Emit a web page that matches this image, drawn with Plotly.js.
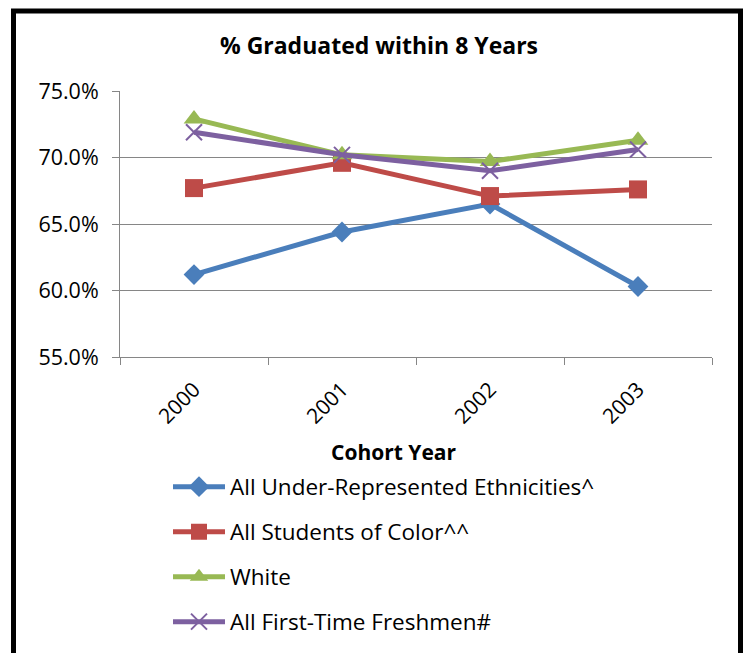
<!DOCTYPE html>
<html>
<head>
<meta charset="utf-8">
<script src="https://cdn.plot.ly/plotly-3.0.1.min.js"></script>
<style>
  html, body { margin: 0; padding: 0; background: #ffffff; }
  #chart { width: 747px; height: 653px; }
</style>
</head>
<body>
<div id="chart"></div>
<script>
// ---- Data ----
const cohortYears = ["2000", "2001", "2002", "2003"];
const seriesNames = [
  "All Under-Represented Ethnicities^",
  "All Students of Color^^",
  "White",
  "All First-Time Freshmen#"
];
const underRepresented = [61.2, 64.4, 66.5, 60.3];
const studentsOfColor  = [67.7, 69.6, 67.1, 67.6];
const white            = [72.9, 70.2, 69.7, 71.3];
const firstTimeFresh   = [71.9, 70.2, 69.0, 70.6];
const yTickValues = [55, 60, 65, 70, 75];
const yTickLabels = ["55.0%", "60.0%", "65.0%", "70.0%", "75.0%"];

const FONT = "'Open Sans', Lato, sans-serif";
const colors = ["#4A7EBB", "#BE4B48", "#98B954", "#7D60A0"];
const symbols = ["diamond", "square", "triangle-up", "x-thin-open"];
const sizes = [16, 18, 18, 16];
const seriesValues = [underRepresented, studentsOfColor, white, firstTimeFresh];
const legendIds = ["legend", "legend2", "legend3", "legend4"];

const traces = seriesValues.map((vals, i) => ({
  type: "scatter",
  mode: "lines+markers",
  x: cohortYears,
  y: vals,
  name: seriesNames[i],
  legend: legendIds[i],
  line: { color: colors[i], width: 5 },
  marker: {
    symbol: symbols[i],
    size: sizes[i],
    color: colors[i],
    line: { color: colors[i], width: i === 3 ? 2 : 0 }
  },
  hoverinfo: "x+y+name"
}));

const L = 120, R = 35, T = 91, B = 295, W = 747, H = 653;
const pw = W - L - R, ph = H - T - B;
const px2x = p => (p - L) / pw;
const px2y = p => (H - B - p) / ph;

const legendRowsPx = [487, 532, 577, 622];

const layout = {
  width: W,
  height: H,
  margin: { l: L, r: R, t: T, b: B, pad: 0 },
  paper_bgcolor: "#ffffff",
  plot_bgcolor: "#ffffff",
  font: { family: FONT, size: 21, color: "#000000" },
  title: {
    text: "<b>% Graduated within 8 Years</b>",
    font: { family: FONT, size: 23, color: "#000000" },
    x: 379 / W, xref: "container", xanchor: "center",
    y: 1 - 46 / H, yref: "container", yanchor: "middle"
  },
  xaxis: {
    type: "category",
    range: [-0.5, 3.5],
    tickson: "boundaries",
    ticks: "outside",
    ticklen: 7,
    tickcolor: "#868686",
    tickwidth: 1,
    tickangle: -45,
    ticklabelstandoff: 11,
    showline: true,
    linecolor: "#868686",
    linewidth: 1,
    showgrid: false,
    zeroline: false,
    automargin: false,
    tickfont: { family: FONT, size: 21, color: "#000000" },
    fixedrange: true
  },
  yaxis: {
    range: [55, 75],
    tickvals: yTickValues,
    ticktext: yTickLabels,
    ticks: "outside",
    ticklen: 7,
    tickcolor: "#868686",
    ticklabelstandoff: 9,
    showline: true,
    linecolor: "#868686",
    linewidth: 1,
    showgrid: true,
    gridcolor: "#868686",
    gridwidth: 1,
    zeroline: false,
    automargin: false,
    tickfont: { family: FONT, size: 21.5, color: "#000000" },
    fixedrange: true
  },
  annotations: [{
    text: "<b>Cohort Year</b>",
    xref: "paper", yref: "paper",
    x: px2x(393), y: px2y(453),
    xanchor: "center", yanchor: "middle",
    showarrow: false,
    font: { family: FONT, size: 21, color: "#000000" }
  }],
  showlegend: true,
  shapes: [{
    type: "rect",
    xref: "paper", yref: "paper",
    x0: px2x(13.5), x1: px2x(740.5),
    y0: px2y(670), y1: px2y(10.8),
    line: { color: "#000000", width: 5 },
    fillcolor: "rgba(0,0,0,0)",
    layer: "above"
  }]
};

legendIds.forEach((id, i) => {
  layout[id] = {
    x: px2x(168), y: px2y(legendRowsPx[i]),
    xanchor: "left", yanchor: "middle",
    orientation: "v",
    itemwidth: 52,
    bgcolor: "rgba(0,0,0,0)",
    font: { family: FONT, size: 22.5, color: "#000000" }
  };
});

Plotly.newPlot("chart", traces, layout, { displayModeBar: false, staticPlot: true });
</script>
</body>
</html>
